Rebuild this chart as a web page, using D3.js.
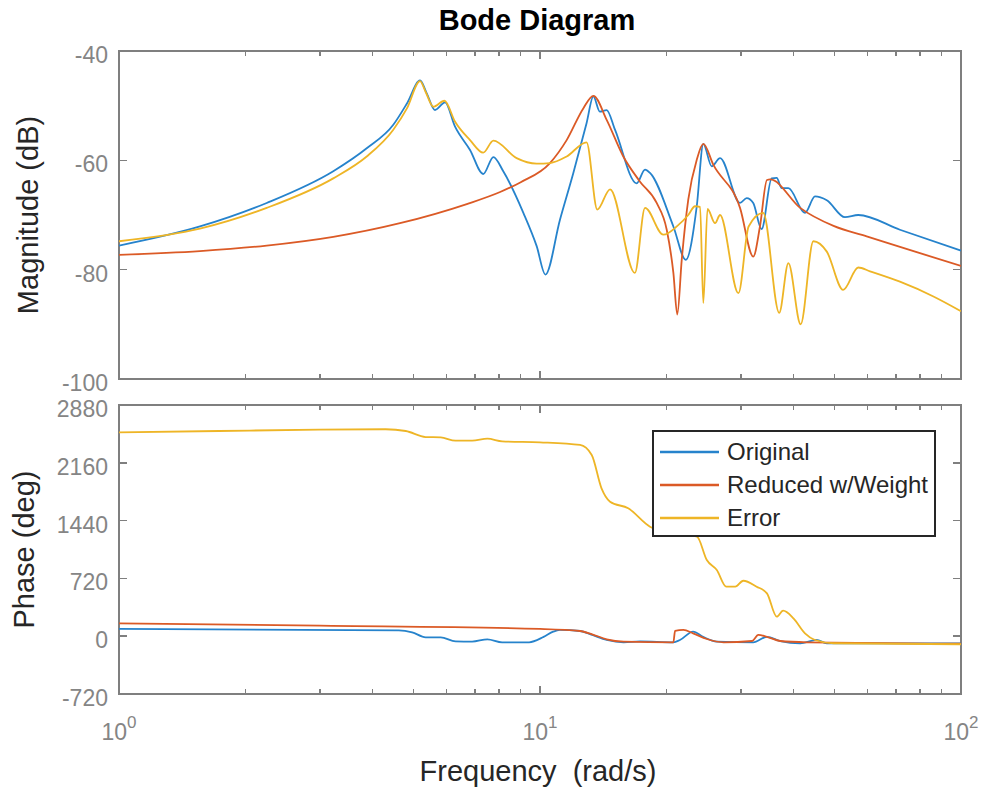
<!DOCTYPE html>
<html lang="en">
  <head>
    <meta charset="UTF-8"/>
    <title>Bode Diagram</title>
    <script src="https://d3js.org/d3.v7.min.js"></script>
    <style>
      body { margin: 0; background: #fff; }
      svg { font-family: "Liberation Sans", Arial, Helvetica, sans-serif; }
      .frame { fill: none; stroke: #7f7f7f; stroke-width: 1.5; shape-rendering: crispEdges; }
      .tick { stroke: #7f7f7f; stroke-width: 1.5; shape-rendering: crispEdges; }
      .ticklabel { fill: #858585; font-size: 23px; }
      .label { fill: #262626; font-size: 29px; }
      .title { fill: #000; font-size: 29px; font-weight: bold; }
      .series { fill: none; stroke-width: 1.8; stroke-linejoin: round; }
      .legend rect { fill: #fff; stroke: #262626; stroke-width: 1.5; shape-rendering: crispEdges; }
      .legend text { fill: #262626; font-size: 24px; }
    </style>
  </head>
  <body>
    <script>
      // axis ticks
      const freqMajor = [1, 10, 100];
      const magTicks = [-40, -60, -80, -100];
      const phaseTicks = [2880, 2160, 1440, 720, 0, -720];

      const seriesNames = ["Original", "Reduced w/Weight", "Error"];
      const seriesColors = ["#2683cc", "#db5a26", "#eeb526"];

      // magnitude (dB)
      const magOriginalFreq = [1.00, 1.557, 2.243, 3.228, 3.876, 4.483, 4.83, 5.19, 5.38, 5.63, 5.95, 6.28, 6.82, 7.33, 7.75, 8.18, 9.13, 9.82, 10.3, 11.15, 12.0, 12.9, 13.39, 13.87, 14.4, 15.07, 16.97, 17.76, 18.25, 20.74, 22.2, 23.57, 24.43, 25.58, 26.77, 29.86, 30.97, 32.1, 33.6, 35.5, 36.5, 37.5, 38.9, 42.6, 45.0, 48.0, 53.0, 57.0, 71.6, 100];
      const magOriginal = [-75.6, -72.1, -67.8, -62.0, -57.8, -53.5, -49.6, -45.4, -47.7, -50.8, -49.4, -53.8, -58.1, -62.5, -59.4, -62.0, -69.6, -75.7, -80.9, -70.9, -62.3, -53.2, -48.3, -51.1, -50.8, -54.4, -64.2, -61.7, -62.3, -72.1, -78.2, -68.4, -57.0, -61.1, -59.6, -67.8, -66.9, -67.8, -72.6, -63.3, -63.2, -65.1, -65.1, -69.6, -66.6, -67.3, -70.4, -70.0, -72.7, -76.5];

      const magReducedFreq = [1.00, 1.557, 2.243, 3.228, 4.65, 6.7, 8.04, 9.0, 10.56, 11.57, 12.67, 13.39, 14.4, 15.77, 17.28, 18.93, 20.0, 20.74, 21.19, 21.71, 22.5, 23.57, 24.43, 25.8, 29.86, 32.1, 33.3, 34.6, 35.2, 41.5, 49.8, 59.7, 78.5, 100];
      const magReduced = [-77.3, -76.6, -75.6, -74.0, -71.5, -68.0, -65.8, -64.0, -60.5, -56.3, -50.5, -48.2, -52.6, -59.3, -63.9, -67.8, -72.7, -80.6, -88.2, -78.2, -67.2, -59.9, -57.0, -60.8, -68.7, -77.6, -72.1, -63.6, -63.5, -68.7, -72.0, -73.9, -76.8, -79.3];

      const magErrorFreq = [1.00, 1.557, 2.243, 3.228, 3.876, 4.483, 4.83, 5.19, 5.35, 5.58, 5.93, 6.28, 6.82, 7.33, 7.75, 8.8, 9.82, 10.56, 11.57, 12.9, 13.68, 14.67, 16.8, 17.76, 19.63, 21.2, 22.5, 23.35, 24.0, 24.43, 25.0, 26.05, 26.77, 29.6, 31.3, 33.9, 37.0, 38.9, 41.6, 44.6, 48.0, 52.5, 57.0, 60.8, 71.6, 86.0, 100];
      const magError = [-74.8, -72.5, -68.7, -63.3, -59.3, -54.4, -50.5, -45.5, -47.5, -50.2, -49.1, -52.9, -56.3, -58.6, -56.4, -59.6, -60.6, -60.5, -59.3, -56.7, -69.0, -65.3, -80.6, -68.7, -73.6, -72.0, -70.0, -68.4, -68.5, -86.1, -68.9, -71.5, -70.0, -84.3, -72.1, -69.6, -87.9, -78.8, -90.0, -74.8, -76.7, -83.7, -79.6, -80.3, -82.2, -84.9, -87.6];

      // phase (deg)
      const phaseOriginalFreq = [1.0, 4.62, 4.97, 5.35, 5.81, 6.3, 6.9, 7.5, 8.13, 9.42, 10.2, 10.75, 11.15, 12.45, 13.3, 14.4, 15.8, 17.3, 20.74, 21.5, 23.1, 24.4, 26.3, 32.1, 34.6, 37.2, 41.5, 45.4, 48.0, 100];
      const phaseOriginal = [90, 73, 48, -14, -14, -64, -68, -39, -76, -76, -8, 57, 78, 65, 16, -46, -76, -64, -76, -47, 57, -8, -68, -76, -8, -60, -88, -46, -88, -90];

      const phaseReducedFreq = [1.0, 3.0, 10.0, 12.45, 13.3, 14.4, 15.8, 20.74, 20.93, 21.9, 23.1, 24.9, 27.3, 31.9, 33.0, 34.6, 37.2, 43.0, 100];
      const phaseReduced = [160, 131, 90, 65, 24, -39, -68, -76, 65, 78, 36, -35, -76, -60, 16, -8, -60, -76, -93];

      const phaseErrorFreq = [1.0, 1.727, 2.99, 4.3, 4.8, 5.35, 5.81, 6.3, 6.9, 7.5, 8.13, 10.0, 12.45, 13.27, 14.0, 14.67, 16.2, 18.25, 20.5, 23.6, 24.9, 26.3, 27.7, 29.1, 30.4, 32.7, 34.6, 36.5, 37.8, 40.0, 42.6, 45.0, 49.8, 100];
      const phaseError = [2540, 2556, 2573, 2578, 2556, 2481, 2477, 2435, 2435, 2460, 2428, 2415, 2382, 2257, 1842, 1676, 1593, 1364, 1290, 1240, 949, 825, 617, 617, 691, 617, 534, 243, 318, 223, 36, -47, -88, -100];

      const width = 985, height = 788
      const left = 119, right = 961
      const magBox = {top: 51, bottom: 379}
      const phaseBox = {top: 405, bottom: 694}

      const svg = d3.select("body").append("svg")
          .attr("width", width)
          .attr("height", height)

      const x = d3.scaleLog()
          .domain([1, 100])
          .range([left, right])

      const yMag = d3.scaleLinear()
          .domain([-100, -40])
          .range([magBox.bottom, magBox.top])

      const yPhase = d3.scaleLinear()
          .domain([-720, 2880])
          .range([phaseBox.bottom, phaseBox.top])

      const minorTicks = x.ticks().filter(d => !freqMajor.includes(d))

      // frame, ticks on all four sides, y tick labels
      function drawPanel(box, y, yTicks, id) {
        const g = svg.append("g")

        g.append("clipPath").attr("id", id)
          .append("rect")
            .attr("x", left).attr("y", box.top)
            .attr("width", right - left).attr("height", box.bottom - box.top)

        const tick = (x1, y1, x2, y2) => g.append("line").attr("class", "tick")
            .attr("x1", x1).attr("y1", y1).attr("x2", x2).attr("y2", y2)

        freqMajor.forEach(f => {
          tick(x(f), box.top, x(f), box.top + 8)
          tick(x(f), box.bottom, x(f), box.bottom - 8)
        })
        minorTicks.forEach(f => {
          tick(x(f), box.top, x(f), box.top + 5)
          tick(x(f), box.bottom, x(f), box.bottom - 5)
        })
        yTicks.forEach(v => {
          tick(left, y(v), left + 8, y(v))
          tick(right, y(v), right - 8, y(v))
        })

        g.selectAll(".ticklabel")
          .data(yTicks)
          .join("text")
            .attr("class", "ticklabel")
            .attr("x", 108)
            .attr("y", d => y(d) + 12)
            .attr("text-anchor", "end")
            .text(d => d)

        g.append("rect")
            .attr("class", "frame")
            .attr("x", left).attr("y", box.top)
            .attr("width", right - left).attr("height", box.bottom - box.top)
        return g
      }

      const magPanel = drawPanel(magBox, yMag, magTicks, "clip-mag")
      const phasePanel = drawPanel(phaseBox, yPhase, phaseTicks, "clip-phase")

      function drawSeries(g, y, freqs, values, color, clip) {
        const line = d3.line()
            .x(d => x(d[0]))
            .y(d => y(d[1]))
            .curve(d3.curveMonotoneX)
        g.append("path")
            .attr("class", "series")
            .attr("clip-path", `url(#${clip})`)
            .attr("stroke", color)
            .attr("d", line(d3.zip(freqs, values)))
      }

      drawSeries(magPanel, yMag, magOriginalFreq, magOriginal, seriesColors[0], "clip-mag")
      drawSeries(magPanel, yMag, magReducedFreq, magReduced, seriesColors[1], "clip-mag")
      drawSeries(magPanel, yMag, magErrorFreq, magError, seriesColors[2], "clip-mag")

      drawSeries(phasePanel, yPhase, phaseOriginalFreq, phaseOriginal, seriesColors[0], "clip-phase")
      drawSeries(phasePanel, yPhase, phaseReducedFreq, phaseReduced, seriesColors[1], "clip-phase")
      drawSeries(phasePanel, yPhase, phaseErrorFreq, phaseError, seriesColors[2], "clip-phase")

      // x tick labels as 10^n
      const xLabels = svg.selectAll(".xticklabel")
        .data(freqMajor)
        .join("text")
          .attr("class", "ticklabel")
          .attr("x", d => x(d))
          .attr("y", 740)
          .attr("text-anchor", "middle")
      xLabels.append("tspan").text("10")
      xLabels.append("tspan")
          .attr("dy", -12)
          .style("font-size", "17px")
          .text(d => Math.round(Math.log10(d)))

      // titles
      svg.append("text")
          .attr("class", "title")
          .attr("x", 537).attr("y", 30)
          .attr("text-anchor", "middle")
          .text("Bode Diagram")

      svg.append("text")
          .attr("class", "label")
          .attr("x", 538).attr("y", 781)
          .attr("text-anchor", "middle")
          .attr("xml:space", "preserve")
          .text("Frequency  (rad/s)")

      svg.append("text")
          .attr("class", "label")
          .attr("transform", `translate(38, ${(magBox.top + magBox.bottom) / 2}) rotate(-90)`)
          .attr("text-anchor", "middle")
          .text("Magnitude (dB)")

      svg.append("text")
          .attr("class", "label")
          .attr("transform", `translate(34, ${(phaseBox.top + phaseBox.bottom) / 2}) rotate(-90)`)
          .attr("text-anchor", "middle")
          .text("Phase (deg)")

      // legend, inside the phase panel
      const legend = svg.append("g")
          .attr("class", "legend")
          .attr("transform", "translate(653, 431)")

      legend.append("rect")
          .attr("width", 282)
          .attr("height", 105)

      const rows = legend.selectAll(".row")
        .data(seriesNames)
        .join("g")
          .attr("transform", (d, i) => `translate(0, ${21 + i * 33})`)

      rows.append("line")
          .attr("x1", 7).attr("x2", 66)
          .attr("stroke", (d, i) => seriesColors[i])
          .attr("stroke-width", 2.5)

      rows.append("text")
          .attr("x", 74)
          .attr("y", 8)
          .text(d => d)
    </script>
  </body>
</html>
